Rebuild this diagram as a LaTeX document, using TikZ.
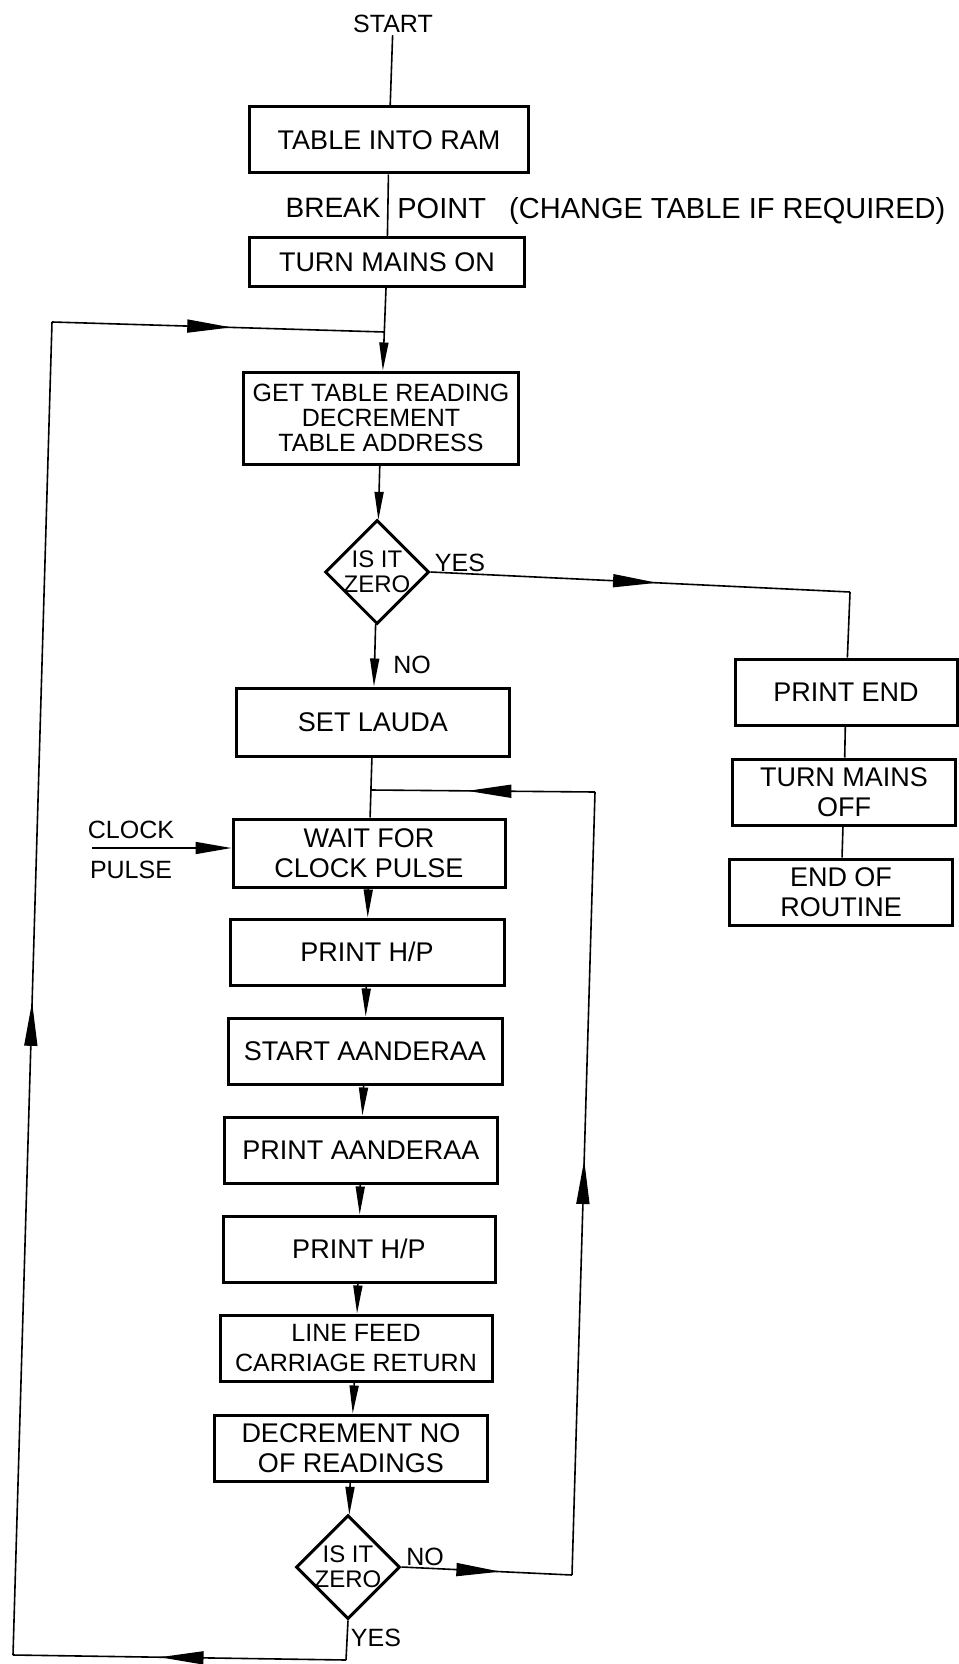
\documentclass[tikz,border=0pt]{standalone}
\usepackage{fontspec}
\setmainfont{Liberation Sans}
\usetikzlibrary{shapes.geometric, arrows.meta, decorations.markings}
\tikzset{
  procbox/.style={rectangle, draw=black, line width=1.5pt, minimum width=#1,
              minimum height=33pt, align=center, inner sep=2pt,
              font=\fontsize{13.5}{15}\selectfont},
  procbox/.default=137pt,
  decision/.style={diamond, draw=black, line width=1.5pt, minimum width=52pt,
              minimum height=52pt, inner sep=0pt},
  decisiontext/.style={font=\fontsize{12}{12.5}\selectfont, align=center},
  tag/.style={font=\fontsize{12.5}{14}\selectfont, inner sep=1pt},
  flowline/.style={line width=0.8pt},
  arrow/.style={flowline, -{Triangle[length=14pt, width=4.5pt]}},
  midarrow/.style={flowline, postaction={decorate},
              decoration={markings, mark=at position #1 with
              {\arrow{Triangle[length=22pt, width=6.5pt]}}}},
}
\begin{document}
\begin{tikzpicture}[x=0.5pt, y=-0.5pt]
  \useasboundingbox (0,0) rectangle (958,1664);

  \node[tag] (start) at (393,24) {START};
  \node[procbox=139.5pt] (tableram) at (389,140) {TABLE INTO RAM};
  \node[tag, anchor=east, font=\fontsize{14}{15}\selectfont] (break) at (383,208) {BREAK};
  \node[tag, anchor=west, font=\fontsize{14.5}{15}\selectfont] (point) at (395,211)
        {POINT\hspace{0.8em}(CHANGE TABLE IF REQUIRED)};
  \node[procbox=137.5pt, minimum height=24.5pt] (mainson) at (387,262) {TURN MAINS ON};
  \node[procbox=137.5pt, minimum height=46pt, font=\fontsize{12.5}{12.5}\selectfont] (gettable) at (381,418)
        {GET TABLE READING\\DECREMENT\\TABLE ADDRESS};
  \node[decision, label={[decisiontext]center:IS IT\\ZERO}] (zero1) at (377,572) {};
  \node[tag] (yes1) at (460,563) {YES};
  \node[tag] (no1) at (412,665) {NO};
  \node[procbox=136.5pt, minimum height=34pt] (setlauda) at (373,722) {SET LAUDA};
  \node[procbox=136pt, minimum height=34pt] (wait) at (369,853) {WAIT FOR\\CLOCK PULSE};
  \node[tag] (clock) at (131,830) {CLOCK};
  \node[tag] (pulse) at (131,870) {PULSE};
  \node[procbox] (printhp1) at (367,952) {PRINT H/P};
  \node[procbox] (startaa) at (365,1051) {START AANDERAA};
  \node[procbox=136.5pt] (printaa) at (361,1150) {PRINT AANDERAA};
  \node[procbox=136pt] (printhp2) at (359,1249) {PRINT H/P};
  \node[procbox=136pt, font=\fontsize{12.5}{15}\selectfont] (linefeed) at (356,1348)
        {LINE FEED\\CARRIAGE RETURN};
  \node[procbox=136.5pt] (decno) at (351,1448) {DECREMENT NO\\OF READINGS};
  \node[decision, label={[decisiontext]center:IS IT\\ZERO}] (zero2) at (348,1567) {};
  \node[tag] (no2) at (425,1557) {NO};
  \node[tag] (yes2) at (376,1638) {YES};

  \node[procbox=111pt] (printend) at (846,692) {PRINT END};
  \node[procbox=111.5pt] (mainsoff) at (844,792) {TURN MAINS\\OFF};
  \node[procbox=111.5pt] (endrout) at (841,892) {END OF\\ROUTINE};

  \coordinate (join1) at (384,332);
  \coordinate (ltop) at (52,322);
  \coordinate (lbot) at (13,1655);
  \coordinate (ybot) at (346,1660);
  \coordinate (rcorner) at (850,592);
  \coordinate (rbot) at (572,1575);
  \coordinate (rtop) at (595,792);
  \coordinate (join2) at (371,790);
  \coordinate (clockin) at (92,848);

  \draw[flowline] (start) -- (tableram);
  \draw[flowline] (tableram) -- (mainson);
  \draw[arrow] (mainson) -- (gettable);
  \draw[arrow] (gettable) -- (zero1);
  \draw[arrow] (zero1) -- (setlauda);
  \draw[midarrow=0.54] (zero1.east) -- (rcorner);
  \draw[flowline] (rcorner) -- (printend);
  \draw[flowline] (printend) -- (mainsoff);
  \draw[flowline] (mainsoff) -- (endrout);
  \draw[flowline] (setlauda) -- (wait);
  \draw[flowline, -{Triangle[length=18pt, width=6pt]}] (clockin) -- (clockin -| wait.west);
  \draw[arrow] (wait) -- (printhp1);
  \draw[arrow] (printhp1) -- (startaa);
  \draw[arrow] (startaa) -- (printaa);
  \draw[arrow] (printaa) -- (printhp2);
  \draw[arrow] (printhp2) -- (linefeed);
  \draw[arrow] (linefeed) -- (decno);
  \draw[arrow] (decno) -- (zero2);
  \draw[midarrow=0.58] (zero2.east) -- (rbot);
  \draw[midarrow=0.53] (rbot) -- (rtop);
  \draw[midarrow=0.57] (rtop) -- (join2);
  \draw[flowline] (zero2.south) -- (ybot);
  \draw[midarrow=0.56] (ybot) -- (lbot);
  \draw[midarrow=0.49] (lbot) -- (ltop);
  \draw[midarrow=0.54] (ltop) -- (join1);
\end{tikzpicture}
\end{document}
